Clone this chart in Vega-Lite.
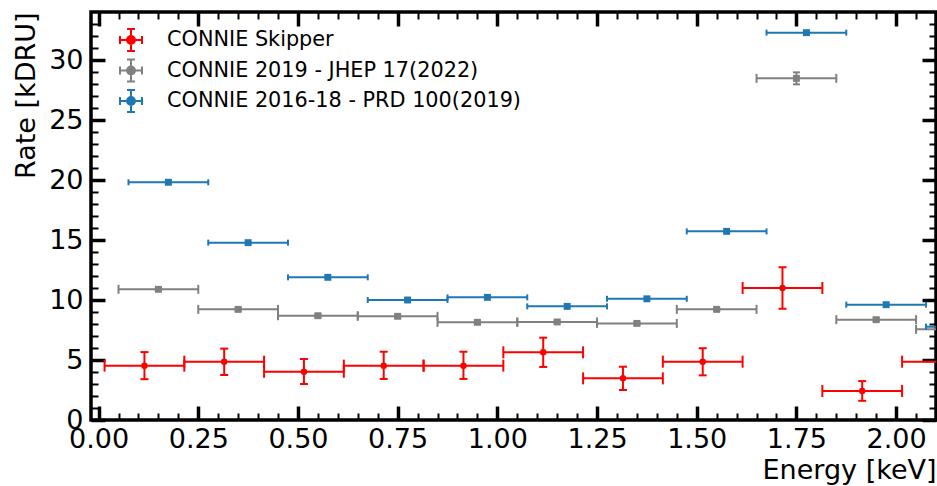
{
  "$schema": "https://vega.github.io/schema/vega-lite/v6.json",
  "width": 845,
  "height": 408,
  "autosize": {"type": "none"},
  "padding": {"left": 91, "top": 12, "right": 1, "bottom": 66},
  "config": {
    "view": {"stroke": "black", "strokeWidth": 3.5},
    "font": "DejaVu Sans",
    "axis": {"grid": false, "domain": false, "labelFont": "DejaVu Sans", "titleFont": "DejaVu Sans", "labelColor": "black", "titleColor": "black", "tickColor": "black", "labelFlush": false, "labelOverlap": false}
  },
  "data": {
    "values": [
      {"s": "CONNIE Skipper", "x": 0.115, "xlo": 0.015, "xhi": 0.215, "y": 4.53, "ylo": 3.4, "yhi": 5.66},
      {"s": "CONNIE Skipper", "x": 0.315, "xlo": 0.215, "xhi": 0.415, "y": 4.86, "ylo": 3.75, "yhi": 5.95},
      {"s": "CONNIE Skipper", "x": 0.515, "xlo": 0.415, "xhi": 0.615, "y": 4.02, "ylo": 3.0, "yhi": 5.08},
      {"s": "CONNIE Skipper", "x": 0.715, "xlo": 0.615, "xhi": 0.815, "y": 4.53, "ylo": 3.42, "yhi": 5.69},
      {"s": "CONNIE Skipper", "x": 0.915, "xlo": 0.815, "xhi": 1.015, "y": 4.53, "ylo": 3.42, "yhi": 5.69},
      {"s": "CONNIE Skipper", "x": 1.115, "xlo": 1.015, "xhi": 1.215, "y": 5.64, "ylo": 4.42, "yhi": 6.86},
      {"s": "CONNIE Skipper", "x": 1.315, "xlo": 1.215, "xhi": 1.415, "y": 3.47, "ylo": 2.5, "yhi": 4.44},
      {"s": "CONNIE Skipper", "x": 1.515, "xlo": 1.415, "xhi": 1.615, "y": 4.86, "ylo": 3.72, "yhi": 5.98},
      {"s": "CONNIE Skipper", "x": 1.715, "xlo": 1.615, "xhi": 1.815, "y": 11.0, "ylo": 9.27, "yhi": 12.73},
      {"s": "CONNIE Skipper", "x": 1.915, "xlo": 1.815, "xhi": 2.015, "y": 2.42, "ylo": 1.6, "yhi": 3.24},
      {"s": "CONNIE Skipper", "x": 2.115, "xlo": 2.015, "xhi": 2.215, "y": 4.86, "ylo": 3.72, "yhi": 5.98},
      {"s": "CONNIE 2019 - JHEP 17(2022)", "x": 0.15, "xlo": 0.05, "xhi": 0.25, "y": 10.89, "ylo": 10.77, "yhi": 11.01},
      {"s": "CONNIE 2019 - JHEP 17(2022)", "x": 0.35, "xlo": 0.25, "xhi": 0.45, "y": 9.22, "ylo": 9.1, "yhi": 9.34},
      {"s": "CONNIE 2019 - JHEP 17(2022)", "x": 0.55, "xlo": 0.45, "xhi": 0.65, "y": 8.69, "ylo": 8.57, "yhi": 8.81},
      {"s": "CONNIE 2019 - JHEP 17(2022)", "x": 0.75, "xlo": 0.65, "xhi": 0.85, "y": 8.64, "ylo": 8.52, "yhi": 8.76},
      {"s": "CONNIE 2019 - JHEP 17(2022)", "x": 0.95, "xlo": 0.85, "xhi": 1.05, "y": 8.14, "ylo": 8.02, "yhi": 8.26},
      {"s": "CONNIE 2019 - JHEP 17(2022)", "x": 1.15, "xlo": 1.05, "xhi": 1.25, "y": 8.17, "ylo": 8.05, "yhi": 8.29},
      {"s": "CONNIE 2019 - JHEP 17(2022)", "x": 1.35, "xlo": 1.25, "xhi": 1.45, "y": 8.05, "ylo": 7.93, "yhi": 8.17},
      {"s": "CONNIE 2019 - JHEP 17(2022)", "x": 1.55, "xlo": 1.45, "xhi": 1.65, "y": 9.22, "ylo": 9.1, "yhi": 9.34},
      {"s": "CONNIE 2019 - JHEP 17(2022)", "x": 1.75, "xlo": 1.65, "xhi": 1.85, "y": 28.47, "ylo": 27.97, "yhi": 28.97},
      {"s": "CONNIE 2019 - JHEP 17(2022)", "x": 1.95, "xlo": 1.85, "xhi": 2.05, "y": 8.36, "ylo": 8.24, "yhi": 8.48},
      {"s": "CONNIE 2019 - JHEP 17(2022)", "x": 2.15, "xlo": 2.05, "xhi": 2.25, "y": 7.56, "ylo": 7.44, "yhi": 7.68},
      {"s": "CONNIE 2016-18 - PRD 100(2019)", "x": 0.175, "xlo": 0.075, "xhi": 0.275, "y": 19.81, "ylo": 19.71, "yhi": 19.91},
      {"s": "CONNIE 2016-18 - PRD 100(2019)", "x": 0.375, "xlo": 0.275, "xhi": 0.475, "y": 14.78, "ylo": 14.68, "yhi": 14.88},
      {"s": "CONNIE 2016-18 - PRD 100(2019)", "x": 0.575, "xlo": 0.475, "xhi": 0.675, "y": 11.89, "ylo": 11.79, "yhi": 11.99},
      {"s": "CONNIE 2016-18 - PRD 100(2019)", "x": 0.775, "xlo": 0.675, "xhi": 0.875, "y": 10.0, "ylo": 9.9, "yhi": 10.1},
      {"s": "CONNIE 2016-18 - PRD 100(2019)", "x": 0.975, "xlo": 0.875, "xhi": 1.075, "y": 10.22, "ylo": 10.12, "yhi": 10.32},
      {"s": "CONNIE 2016-18 - PRD 100(2019)", "x": 1.175, "xlo": 1.075, "xhi": 1.275, "y": 9.47, "ylo": 9.37, "yhi": 9.57},
      {"s": "CONNIE 2016-18 - PRD 100(2019)", "x": 1.375, "xlo": 1.275, "xhi": 1.475, "y": 10.1, "ylo": 10.0, "yhi": 10.2},
      {"s": "CONNIE 2016-18 - PRD 100(2019)", "x": 1.575, "xlo": 1.475, "xhi": 1.675, "y": 15.72, "ylo": 15.62, "yhi": 15.82},
      {"s": "CONNIE 2016-18 - PRD 100(2019)", "x": 1.775, "xlo": 1.675, "xhi": 1.875, "y": 32.28, "ylo": 32.18, "yhi": 32.38},
      {"s": "CONNIE 2016-18 - PRD 100(2019)", "x": 1.975, "xlo": 1.875, "xhi": 2.075, "y": 9.61, "ylo": 9.51, "yhi": 9.71},
      {"s": "CONNIE 2016-18 - PRD 100(2019)", "x": 2.175, "xlo": 2.075, "xhi": 2.275, "y": 7.78, "ylo": 7.68, "yhi": 7.88}
    ]
  },
  "resolve": {"axis": {"x": "independent", "y": "independent"}, "scale": {"size": "independent"}},
  "layer": [
    {
      "mark": {"type": "point", "opacity": 0},
      "encoding": {
        "x": {"field": "x", "type": "quantitative", "scale": {"domain": [-0.019, 2.1], "nice": false, "zero": false},
          "axis": {"orient": "bottom", "values": [0, 0.25, 0.5, 0.75, 1.0, 1.25, 1.5, 1.75, 2.0], "format": ".2f", "ticks": false, "labelFontSize": 27, "labelPadding": 6, "title": "Energy [keV]", "titleFontSize": 27, "titleFontWeight": "normal", "titleAnchor": "end", "titlePadding": 5}},
        "y": {"field": "y", "type": "quantitative", "scale": {"domain": [0, 34], "nice": false, "zero": false},
          "axis": {"orient": "left", "values": [0, 5, 10, 15, 20, 25, 30], "ticks": false, "labelFontSize": 27, "labelPadding": 8, "title": "Rate [kDRU]", "titleFontSize": 27, "titleFontWeight": "normal", "titleAnchor": "end", "titlePadding": 8}}
      }
    },
    {
      "mark": {"type": "point", "opacity": 0},
      "encoding": {
        "x": {"field": "x", "type": "quantitative", "axis": {"orient": "bottom", "values": [0, 0.25, 0.5, 0.75, 1.0, 1.25, 1.5, 1.75, 2.0], "labels": false, "tickSize": -14, "tickWidth": 3.5, "title": null}},
        "y": {"field": "y", "type": "quantitative", "axis": {"orient": "left", "values": [0, 5, 10, 15, 20, 25, 30], "labels": false, "tickSize": -14, "tickWidth": 3.5, "title": null}}
      }
    },
    {
      "mark": {"type": "point", "opacity": 0},
      "encoding": {
        "x": {"field": "x", "type": "quantitative", "axis": {"orient": "bottom", "values": [0, 0.05, 0.1, 0.15, 0.2, 0.25, 0.3, 0.35, 0.4, 0.45, 0.5, 0.55, 0.6, 0.65, 0.7, 0.75, 0.8, 0.85, 0.9, 0.95, 1.0, 1.05, 1.1, 1.15, 1.2, 1.25, 1.3, 1.35, 1.4, 1.45, 1.5, 1.55, 1.6, 1.65, 1.7, 1.75, 1.8, 1.85, 1.9, 1.95, 2.0, 2.05], "labels": false, "tickSize": -7, "tickWidth": 2, "title": null}},
        "y": {"field": "y", "type": "quantitative", "axis": {"orient": "left", "values": [1, 2, 3, 4, 5, 6, 7, 8, 9, 10, 11, 12, 13, 14, 15, 16, 17, 18, 19, 20, 21, 22, 23, 24, 25, 26, 27, 28, 29, 30, 31, 32, 33], "labels": false, "tickSize": -7, "tickWidth": 2, "title": null}}
      }
    },
    {
      "mark": {"type": "point", "opacity": 0},
      "encoding": {
        "x": {"field": "x", "type": "quantitative", "axis": {"orient": "top", "values": [0, 0.25, 0.5, 0.75, 1.0, 1.25, 1.5, 1.75, 2.0], "labels": false, "tickSize": -14, "tickWidth": 3.5, "title": null}},
        "y": {"field": "y", "type": "quantitative", "axis": {"orient": "right", "values": [0, 5, 10, 15, 20, 25, 30], "labels": false, "tickSize": -14, "tickWidth": 3.5, "title": null}}
      }
    },
    {
      "mark": {"type": "point", "opacity": 0},
      "encoding": {
        "x": {"field": "x", "type": "quantitative", "axis": {"orient": "top", "values": [0, 0.05, 0.1, 0.15, 0.2, 0.25, 0.3, 0.35, 0.4, 0.45, 0.5, 0.55, 0.6, 0.65, 0.7, 0.75, 0.8, 0.85, 0.9, 0.95, 1.0, 1.05, 1.1, 1.15, 1.2, 1.25, 1.3, 1.35, 1.4, 1.45, 1.5, 1.55, 1.6, 1.65, 1.7, 1.75, 1.8, 1.85, 1.9, 1.95, 2.0, 2.05], "labels": false, "tickSize": -7, "tickWidth": 2, "title": null}},
        "y": {"field": "y", "type": "quantitative", "axis": {"orient": "right", "values": [1, 2, 3, 4, 5, 6, 7, 8, 9, 10, 11, 12, 13, 14, 15, 16, 17, 18, 19, 20, 21, 22, 23, 24, 25, 26, 27, 28, 29, 30, 31, 32, 33], "labels": false, "tickSize": -7, "tickWidth": 2, "title": null}}
      }
    },
    {
      "mark": {"type": "rule", "strokeWidth": 2, "clip": true},
      "encoding": {
        "x": {"field": "xlo", "type": "quantitative", "axis": null},
        "x2": {"field": "xhi"},
        "y": {"field": "y", "type": "quantitative", "axis": null},
        "color": {"field": "s", "type": "nominal", "scale": {"domain": ["CONNIE Skipper", "CONNIE 2019 - JHEP 17(2022)", "CONNIE 2016-18 - PRD 100(2019)"], "range": ["#ff0000", "#808080", "#1f77b4"]},
          "legend": {"orient": "none", "legendX": 28, "legendY": 16, "title": null, "padding": 0,
            "symbolType": "M-1,0L1,0M0,-1L0,1M-1,-0.36L-1,0.36M1,-0.36L1,0.36M-0.36,-1L0.36,-1M-0.36,1L0.36,1M0.36,0A0.36,0.36,0,1,1,-0.36,0A0.36,0.36,0,1,1,0.36,0Z",
            "symbolSize": 484, "symbolStrokeWidth": 2, "labelFontSize": 20.8, "labelFont": "DejaVu Sans", "labelColor": "black", "labelOffset": 24, "rowPadding": 0.5, "labelLimit": 600,
            "encode": {"symbols": {"update": {
              "stroke": {"scale": "color", "field": "value"}, "fill": {"scale": "color", "field": "value"}, "opacity": {"value": 1}, "strokeWidth": {"value": 2}}}}}}
      }
    },
    {
      "mark": {"type": "rule", "strokeWidth": 2, "clip": true},
      "encoding": {
        "x": {"field": "x", "type": "quantitative", "axis": null},
        "y": {"field": "ylo", "type": "quantitative", "axis": null},
        "y2": {"field": "yhi"},
        "color": {"field": "s", "type": "nominal"}
      }
    },
    {
      "transform": [{"fold": ["xlo", "xhi"], "as": ["k", "cx"]}],
      "mark": {"type": "tick", "orient": "vertical", "thickness": 2, "clip": true, "opacity": 1},
      "encoding": {
        "x": {"field": "cx", "type": "quantitative", "axis": null},
        "y": {"field": "y", "type": "quantitative", "axis": null},
        "color": {"field": "s", "type": "nominal"},
        "size": {"field": "s", "type": "nominal", "scale": {"domain": ["CONNIE Skipper", "CONNIE 2019 - JHEP 17(2022)", "CONNIE 2016-18 - PRD 100(2019)"], "range": [12, 6, 6]}, "legend": null}
      }
    },
    {
      "transform": [{"fold": ["ylo", "yhi"], "as": ["k", "cy"]}],
      "mark": {"type": "tick", "orient": "horizontal", "thickness": 2, "clip": true, "opacity": 1},
      "encoding": {
        "x": {"field": "x", "type": "quantitative", "axis": null},
        "y": {"field": "cy", "type": "quantitative", "axis": null},
        "color": {"field": "s", "type": "nominal"},
        "size": {"field": "s", "type": "nominal", "scale": {"domain": ["CONNIE Skipper", "CONNIE 2019 - JHEP 17(2022)", "CONNIE 2016-18 - PRD 100(2019)"], "range": [8, 6, 6]}, "legend": null}
      }
    },
    {
      "transform": [{"filter": "datum.s !== 'CONNIE Skipper'"}],
      "mark": {"type": "point", "filled": true, "opacity": 1, "clip": true, "shape": "square", "size": 48},
      "encoding": {
        "x": {"field": "x", "type": "quantitative", "axis": null},
        "y": {"field": "y", "type": "quantitative", "axis": null},
        "color": {"field": "s", "type": "nominal"}
      }
    },
    {
      "transform": [{"filter": "datum.s === 'CONNIE Skipper'"}],
      "mark": {"type": "point", "filled": true, "opacity": 1, "clip": true, "shape": "circle", "size": 42},
      "encoding": {
        "x": {"field": "x", "type": "quantitative", "axis": null},
        "y": {"field": "y", "type": "quantitative", "axis": null},
        "color": {"field": "s", "type": "nominal"}
      }
    }
  ]
}
